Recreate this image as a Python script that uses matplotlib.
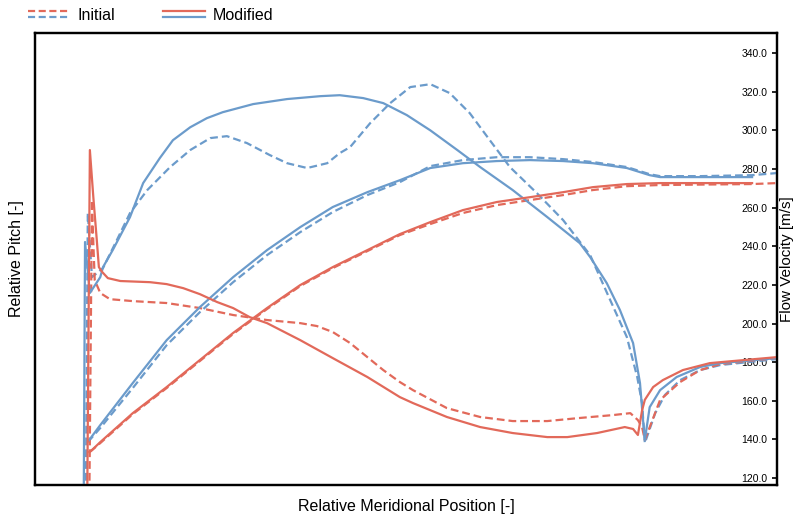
import matplotlib
matplotlib.use("Agg")
import matplotlib.pyplot as plt
from matplotlib.legend_handler import HandlerBase
from matplotlib.lines import Line2D

plt.rcParams['font.family'] = ['Liberation Sans', 'DejaVu Sans']

red = '#E2695A'
blue = '#6B9BCB'

# blue curves with the big hump (suction side)
b1_mod_x = [-0.002, 0.0, 0.007, 0.022, 0.026, 0.040, 0.065, 0.084, 0.108, 0.127, 0.152, 0.176, 0.199,
            0.243, 0.292, 0.340, 0.368, 0.402, 0.431, 0.465, 0.499, 0.538, 0.571, 0.618, 0.668,
            0.715, 0.730, 0.754, 0.773, 0.792, 0.802, 0.806, 0.809, 0.816, 0.831, 0.855, 0.889,
            0.918, 1.0]
b1_mod_y = [100, 242.2, 215.8, 224.0, 229.2, 238.0, 255.1, 272.7, 285.6, 294.9, 301.6, 306.3, 309.4,
            313.6, 316.2, 317.7, 318.2, 316.7, 314.1, 307.9, 300.0, 289.8, 281.0, 269.1, 255.1,
            241.6, 234.4, 220.9, 207.0, 189.9, 169.2, 151.6, 139.7, 156.7, 165.5, 172.3, 177.5,
            179.5, 182.1]

b1_ini_x = [0.001, 0.004, 0.010, 0.026, 0.046, 0.065, 0.090, 0.123, 0.152, 0.181, 0.205, 0.234,
            0.267, 0.292, 0.321, 0.350, 0.368, 0.383, 0.412, 0.441, 0.470, 0.499, 0.527, 0.556,
            0.585, 0.614, 0.653, 0.691, 0.730, 0.759, 0.783, 0.798, 0.805, 0.809, 0.824, 0.838,
            0.860, 0.889, 0.918, 1.0]
b1_ini_y = [100, 257.2, 224.0, 228.7, 243.2, 257.2, 269.1, 281.0, 289.8, 296.0, 297.0, 293.4,
            287.2, 283.0, 280.5, 283.0, 288.2, 291.3, 303.7, 314.1, 322.4, 323.9, 319.3, 308.9,
            294.9, 281.0, 267.5, 253.5, 235.4, 212.1, 193.0, 172.3, 158.8, 138.1, 153.6, 163.0,
            170.7, 175.9, 178.5, 181.6]

# red curves with the leading-edge spike
r1_mod_x = [0.003, 0.007, 0.012, 0.017, 0.020, 0.025, 0.033, 0.051, 0.094, 0.118, 0.142, 0.166,
            0.191, 0.214, 0.238, 0.263, 0.311, 0.358, 0.408, 0.455, 0.474, 0.523, 0.571, 0.618,
            0.668, 0.697, 0.740, 0.780, 0.792, 0.799, 0.805, 0.809, 0.821, 0.835, 0.864, 0.903, 1.0]
r1_mod_y = [100, 289.8, 265.4, 243.2, 229.2, 226.6, 223.5, 222.0, 221.4, 220.4, 218.3, 215.2,
            211.1, 208.0, 203.3, 200.2, 191.4, 182.1, 172.3, 161.9, 158.8, 151.6, 146.4, 143.3,
            141.2, 141.2, 143.3, 146.4, 145.4, 142.3, 155.0, 160.5, 167.1, 170.7, 175.9, 179.5, 182.6]

r1_ini_x = [0.006, 0.010, 0.012, 0.014, 0.022, 0.036, 0.069, 0.118, 0.166, 0.214, 0.263, 0.311,
            0.335, 0.358, 0.383, 0.408, 0.431, 0.455, 0.474, 0.523, 0.571, 0.618, 0.668, 0.715,
            0.763, 0.788, 0.799, 0.805, 0.809, 0.831, 0.860, 0.889, 0.918, 1.0]
r1_ini_y = [100, 263.9, 241.6, 222.5, 215.8, 212.6, 211.6, 210.6, 208.0, 204.4, 201.8, 200.2,
            198.7, 195.6, 189.9, 182.6, 175.9, 169.7, 165.5, 156.2, 151.6, 149.5, 149.5, 151.1,
            152.6, 153.6, 150.0, 146.4, 139.7, 160.4, 169.7, 175.9, 179.0, 182.1]

# monotonic rising curves
b2_mod_x = [0.006, 0.022, 0.069, 0.118, 0.166, 0.214, 0.263, 0.311, 0.358, 0.408, 0.455, 0.499,
            0.546, 0.595, 0.643, 0.691, 0.734, 0.783, 0.816, 0.831, 0.879, 0.964]
b2_mod_y = [139.7, 147.4, 169.2, 191.4, 208.5, 224.0, 238.0, 249.9, 260.3, 268.0, 274.2, 280.5,
            283.0, 284.1, 284.6, 284.1, 283.0, 280.5, 276.8, 275.8, 275.8, 275.8]

b2_ini_x = [0.004, 0.022, 0.069, 0.118, 0.166, 0.214, 0.263, 0.311, 0.358, 0.408, 0.455, 0.499,
            0.546, 0.595, 0.643, 0.691, 0.734, 0.783, 0.816, 0.831, 0.889, 0.964, 1.0]
b2_ini_y = [138.6, 145.9, 166.6, 188.8, 205.9, 221.4, 235.4, 247.3, 257.7, 266.5, 273.2, 281.5,
            284.6, 286.1, 286.1, 285.1, 283.6, 281.0, 277.3, 276.3, 276.3, 276.8, 277.9]

r2_mod_x = [0.006, 0.010, 0.022, 0.069, 0.118, 0.166, 0.214, 0.263, 0.311, 0.358, 0.408, 0.455,
            0.499, 0.546, 0.595, 0.643, 0.691, 0.734, 0.783, 0.831, 0.964]
r2_mod_y = [133.5, 134.5, 138.6, 153.6, 167.1, 181.1, 195.1, 208.0, 219.9, 229.2, 238.0, 246.3,
            252.5, 258.7, 262.9, 265.4, 268.0, 270.6, 272.2, 272.7, 272.7]

r2_ini_x = [0.007, 0.022, 0.069, 0.118, 0.166, 0.214, 0.263, 0.311, 0.358, 0.408, 0.455, 0.499,
            0.546, 0.595, 0.643, 0.691, 0.734, 0.783, 0.831, 0.964, 1.0]
r2_ini_y = [133.5, 138.1, 153.1, 166.6, 180.6, 194.6, 207.5, 219.4, 228.7, 237.5, 245.8, 251.5,
            257.2, 261.3, 263.9, 266.5, 269.1, 271.1, 271.7, 272.2, 272.7]

velocity_ticks = [120, 140, 160, 180, 200, 220, 240, 260, 280, 300, 320, 340]


class TwoLineHandler(HandlerBase):
    def __init__(self, style):
        super().__init__()
        self.style = style

    def create_artists(self, legend, orig_handle, xdescent, ydescent, width, height, fontsize, trans):
        top = Line2D([-xdescent, width - xdescent], [height * 0.78, height * 0.78],
                     color=red, lw=1.6, linestyle=self.style, transform=trans)
        bot = Line2D([-xdescent, width - xdescent], [height * 0.22, height * 0.22],
                     color=blue, lw=1.6, linestyle=self.style, transform=trans)
        if self.style == '--':
            top.set_dashes((3.2, 1.6))
            bot.set_dashes((3.2, 1.6))
        return [top, bot]


fig = plt.figure(figsize=(7.95, 5.15), dpi=100)
ax1 = fig.add_axes([35 / 795, 1 - 485 / 515, 742 / 795, 452 / 515])
ax1.set_xticks([])
ax1.set_yticks([])
ax1.set_ylabel('Relative Pitch [-]', fontsize=11.5, labelpad=8)
ax1.set_xlabel('Relative Meridional Position [-]', fontsize=11.5, labelpad=10)
for s in ax1.spines.values():
    s.set_linewidth(1.6)

ax2 = ax1.twinx()
ax2.set_xlim(-0.0723, 1.0)
ax2.set_ylim(116.4, 350.4)

dash = (3.5, 1.8)
ax2.plot(b1_ini_x, b1_ini_y, color=blue, lw=1.6, dashes=dash)
ax2.plot(b2_ini_x, b2_ini_y, color=blue, lw=1.6, dashes=dash)
ax2.plot(r1_ini_x, r1_ini_y, color=red, lw=1.6, dashes=dash)
ax2.plot(r2_ini_x, r2_ini_y, color=red, lw=1.6, dashes=dash)
ax2.plot(b1_mod_x, b1_mod_y, color=blue, lw=1.6)
ax2.plot(b2_mod_x, b2_mod_y, color=blue, lw=1.6)
ax2.plot(r1_mod_x, r1_mod_y, color=red, lw=1.6)
ax2.plot(r2_mod_x, r2_mod_y, color=red, lw=1.6)

ax2.set_yticks(velocity_ticks)
ax2.set_yticklabels([f'{v:.1f}' for v in velocity_ticks])
ax2.tick_params(axis='y', direction='in', length=3.5, width=1.2, pad=-7, labelsize=7.5)
for lab in ax2.get_yticklabels():
    lab.set_horizontalalignment('right')
ax2.set_ylabel('Flow Velocity [m/s]', fontsize=11, rotation=90)
ax2.yaxis.set_label_coords(1.0035, 0.5)
for s in ax2.spines.values():
    s.set_linewidth(1.6)

h1 = Line2D([], [], color=red)
h2 = Line2D([], [], color=blue)
fig.legend([h1, h2], ['Initial', 'Modified'], loc='center left',
           bbox_to_anchor=(28 / 795, 1 - 15 / 515), ncol=2, frameon=False,
           fontsize=11.5, handlelength=2.65, handletextpad=0.45, columnspacing=3.0,
           borderpad=0, borderaxespad=0,
           handler_map={h1: TwoLineHandler('--'), h2: TwoLineHandler('-')})

fig.savefig('out.png', dpi=100)
